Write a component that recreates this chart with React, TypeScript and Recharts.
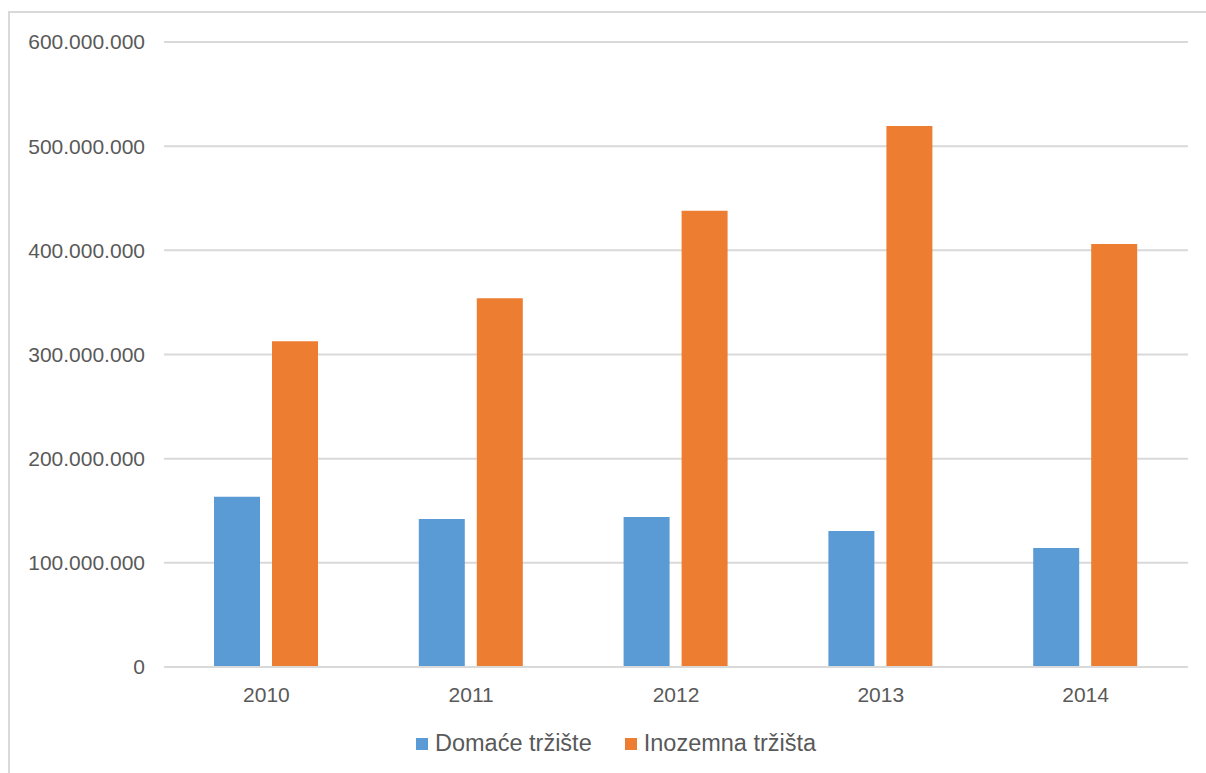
import React from 'react';
import { BarChart, Bar, XAxis, YAxis, CartesianGrid, Legend } from 'recharts';

const years = ['2010', '2011', '2012', '2013', '2014'];
const domaceTrziste = [163400000, 142000000, 144000000, 130600000, 114200000];
const inozemnaTrzista = [312800000, 354000000, 437900000, 519300000, 406000000];
const yTicks = [0, 100000000, 200000000, 300000000, 400000000, 500000000, 600000000];

const data = years.map((year, i) => ({
	year,
	domace: domaceTrziste[i],
	inozemna: inozemnaTrzista[i],
}));

const FONT = '"Liberation Sans", Arial, sans-serif';
const TEXT = '#595959';

const formatNumber = (value: number) =>
	String(Math.round(value)).replace(/\B(?=(\d{3})+(?!\d))/g, '.');

function LegendContent({ payload }: any) {
	return (
		<div style={{ display: 'flex', alignItems: 'center', fontFamily: FONT, fontSize: 23.5, color: TEXT }}>
			{(payload || []).map((entry: any, i: number) => (
				<div key={entry.value} style={{ display: 'flex', alignItems: 'center', marginRight: i === 0 ? 33 : 0 }}>
					<div style={{ width: 12, height: 12, background: entry.color, marginRight: 7 }} />
					<span>{entry.value}</span>
				</div>
			))}
		</div>
	);
}

export default function App() {
	return (
		<div style={{ position: 'absolute', left: 0, top: 0, width: 1206, height: 773, background: '#fff' }}>
			{/* outer frame, only left and top edges are visible */}
			<div
				style={{
					position: 'absolute',
					left: 8,
					top: 11,
					width: 1196,
					height: 760,
					borderLeft: '2px solid #d9d9d9',
					borderTop: '2px solid #d9d9d9',
				}}
			/>
			<div style={{ position: 'absolute', left: 0, top: 0 }}>
				<BarChart
					width={1206}
					height={773}
					data={data}
					margin={{ top: 42, right: 18, bottom: 76, left: 0 }}
					barSize={46}
					barGap={12}
				>
					<CartesianGrid vertical={false} stroke="#d9d9d9" strokeWidth={2} />
					<XAxis
						dataKey="year"
						height={30}
						axisLine={{ stroke: '#d9d9d9', strokeWidth: 2 }}
						tickLine={false}
						tickSize={0}
						tickMargin={20}
						tick={{ fill: TEXT, fontSize: 21, fontFamily: FONT }}
					/>
					<YAxis
						width={164}
						domain={[0, 600000000]}
						ticks={yTicks}
						tickFormatter={formatNumber}
						axisLine={false}
						tickLine={false}
						tickSize={0}
						tickMargin={19}
						tick={{ fill: TEXT, fontSize: 21, fontFamily: FONT }}
					/>
					{/* middle alignment keeps the legend from shrinking the plot area */}
					<Legend
						layout="horizontal"
						align="center"
						verticalAlign="middle"
						content={<LegendContent />}
						wrapperStyle={{ left: 416, top: 730, width: 'auto', bottom: 'auto' }}
					/>
					<Bar dataKey="domace" name="Domaće tržište" fill="#5B9BD5" isAnimationActive={false} />
					<Bar dataKey="inozemna" name="Inozemna tržišta" fill="#ED7D31" isAnimationActive={false} />
				</BarChart>
			</div>
		</div>
	);
}
